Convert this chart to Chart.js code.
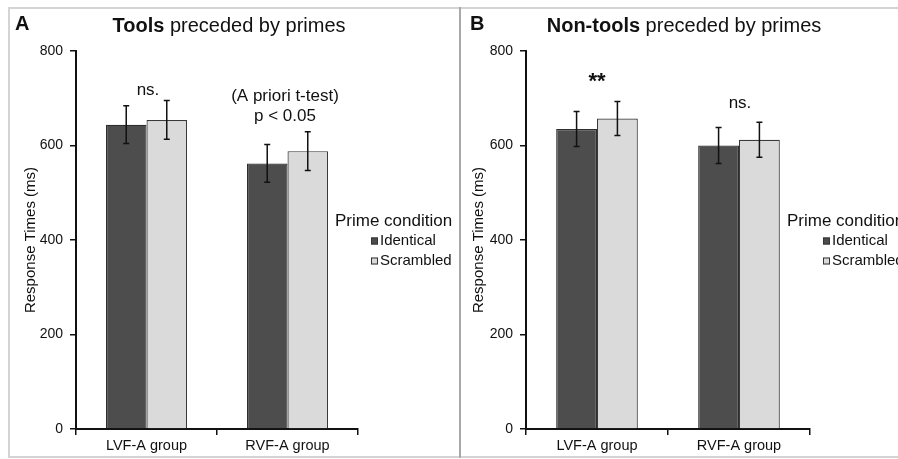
<!DOCTYPE html>
<html>
<head>
<meta charset="utf-8">
<script src="https://cdn.jsdelivr.net/npm/chart.js@4.4.1/dist/chart.umd.min.js"></script>
<style>
  html, body { margin: 0; padding: 0; background: #fff; width: 898px; height: 459px; overflow: hidden; }
  #frame { position: absolute; left: 8px; top: 7px; width: 900px; height: 447px; border: 2px solid #d4d4d4; border-right: none; }
  #sep { position: absolute; left: 459px; top: 7px; width: 2px; height: 451px; background: #a9a9a9; }
  #wrapA { position: absolute; left: 10px; top: 9px; width: 449px; height: 448px; overflow: hidden; }
  #wrapB { position: absolute; left: 462px; top: 9px; width: 436px; height: 448px; overflow: hidden; }
  canvas { display: block; }
</style>
</head>
<body>
<div id="frame"></div>
<div id="sep"></div>
<div id="wrapA"><canvas id="chartA" width="450" height="448"></canvas></div>
<div id="wrapB"><canvas id="chartB" width="450" height="448"></canvas></div>
<script>
// ---- data ----
const categories = ["LVF-A group", "RVF-A group"];
const seriesNames = ["Identical", "Scrambled"];
const yTicks = [0, 200, 400, 600, 800];

const toolsIdentical = [644, 562];
const toolsIdenticalErr = [40, 40];
const toolsScrambled = [654, 588];
const toolsScrambledErr = [41, 41];

const nonToolsIdentical = [635, 600];
const nonToolsIdenticalErr = [37, 38];
const nonToolsScrambled = [657, 612];
const nonToolsScrambledErr = [36, 37];

const FONT = '"Liberation Sans", Arial, Helvetica, sans-serif';
const DARK = '#4d4d4d';
const LIGHT = '#dadada';

function makeChart(id, opts) {
  const ox = opts.ox, oy = opts.oy;
  const overlay = {
    id: 'overlay',
    afterDatasetsDraw(chart) {
      const ctx = chart.ctx;
      const ys = chart.scales.y;
      // error bars
      ctx.save();
      ctx.strokeStyle = '#111';
      ctx.lineWidth = 1.5;
      chart.data.datasets.forEach((ds, di) => {
        const meta = chart.getDatasetMeta(di);
        meta.data.forEach((bar, i) => {
          const v = ds.data[i], e = ds.errors[i];
          const yt = ys.getPixelForValue(v + e), yb = ys.getPixelForValue(v - e);
          ctx.beginPath();
          ctx.moveTo(bar.x, yt); ctx.lineTo(bar.x, yb);
          ctx.moveTo(bar.x - 3, yt); ctx.lineTo(bar.x + 3, yt);
          ctx.moveTo(bar.x - 3, yb); ctx.lineTo(bar.x + 3, yb);
          ctx.stroke();
        });
      });
      ctx.restore();
    },
    afterDraw(chart) {
      const ctx = chart.ctx;
      ctx.save();
      ctx.fillStyle = '#111';
      ctx.textBaseline = 'alphabetic';
      // panel letter
      ctx.font = 'bold 20px ' + FONT;
      ctx.textAlign = 'left';
      ctx.fillText(opts.letter, opts.letterX - ox, 30 - oy);
      // title (bold part + normal part)
      ctx.font = 'bold 20px ' + FONT;
      const w1 = ctx.measureText(opts.titleBold).width;
      ctx.font = '20px ' + FONT;
      const w2 = ctx.measureText(opts.titleRest).width;
      let tx = opts.titleCX - ox - (w1 + w2) / 2;
      ctx.font = 'bold 20px ' + FONT;
      ctx.fillText(opts.titleBold, tx, 32 - oy);
      ctx.font = '20px ' + FONT;
      ctx.fillText(opts.titleRest, tx + w1, 32 - oy);
      // annotations
      ctx.textAlign = 'center';
      ctx.textBaseline = 'middle';
      opts.notes.forEach(n => {
        ctx.font = (n.bold ? 'bold ' : '') + n.size + 'px ' + FONT;
        ctx.fillText(n.text, n.x - ox, n.y - oy);
      });
      // legend
      ctx.textAlign = 'left';
      ctx.font = '17px ' + FONT;
      ctx.fillText('Prime condition', opts.legX - ox, 221 - oy);
      ctx.font = '15px ' + FONT;
      chart.data.datasets.forEach((ds, di) => {
        const cy = 241 + di * 20 - oy;
        ctx.fillStyle = ds.backgroundColor;
        ctx.fillRect(opts.boxX - ox, cy - 3.5, 7, 7);
        ctx.strokeStyle = '#333';
        ctx.lineWidth = 1;
        ctx.strokeRect(opts.boxX - ox + 0.5, cy - 3.5 + 0.5, 6, 6);
        ctx.fillStyle = '#111';
        ctx.fillText(ds.label, opts.boxX - ox + 9, cy);
      });
      ctx.restore();
    }
  };

  return new Chart(document.getElementById(id), {
    type: 'bar',
    data: {
      labels: categories,
      datasets: [
        { label: seriesNames[0], data: opts.identical, errors: opts.identicalErr,
          backgroundColor: DARK, borderColor: '#2e2e2e', borderWidth: 1.2 },
        { label: seriesNames[1], data: opts.scrambled, errors: opts.scrambledErr,
          backgroundColor: LIGHT, borderColor: '#3a3a3a', borderWidth: 1.2 }
      ]
    },
    plugins: [overlay],
    options: {
      responsive: false,
      animation: false,
      devicePixelRatio: 1,
      layout: { padding: { left: opts.padLeft, right: 102, top: 42, bottom: 0 } },
      plugins: { legend: { display: false }, tooltip: { enabled: false }, title: { display: false } },
      datasets: { bar: { categoryPercentage: 0.575, barPercentage: 1.0 } },
      scales: {
        x: {
          type: 'category',
          offset: true,
          border: { display: true, color: '#111', width: 2 },
          grid: { display: true, offset: true, drawOnChartArea: false, drawTicks: true, tickLength: 6, color: '#111', lineWidth: 1.5 },
          ticks: { color: '#111', font: { family: FONT, size: 14.5 }, padding: 2, maxRotation: 0 },
          afterFit: (s) => { s.height = 28; }
        },
        y: {
          min: 0, max: 800,
          afterBuildTicks: (s) => { s.ticks = yTicks.map(v => ({ value: v })); },
          border: { display: true, color: '#111', width: 2 },
          grid: { display: true, drawOnChartArea: false, drawTicks: true, tickLength: 6, color: '#111', lineWidth: 1.5 },
          ticks: { color: '#111', font: { family: FONT, size: 14 }, padding: 7 },
          title: { display: true, text: 'Response Times (ms)', color: '#111', font: { family: FONT, size: 15 }, padding: { top: 4, bottom: 4 } },
          afterFit: (s) => { s.width = opts.yWidth; }
        }
      }
    }
  });
}

makeChart('chartA', {
  ox: 10, oy: 9, padLeft: 8, yWidth: 58,
  letter: 'A', letterX: 15,
  titleBold: 'Tools', titleRest: ' preceded by primes', titleCX: 229,
  identical: toolsIdentical, identicalErr: toolsIdenticalErr,
  scrambled: toolsScrambled, scrambledErr: toolsScrambledErr,
  notes: [
    { text: 'ns.', x: 148, y: 90, size: 17 },
    { text: '(A priori t-test)', x: 285, y: 96, size: 17 },
    { text: 'p < 0.05', x: 285, y: 116, size: 17 }
  ],
  legX: 335, boxX: 371
});

makeChart('chartB', {
  ox: 462, oy: 9, padLeft: 4, yWidth: 60,
  letter: 'B', letterX: 470,
  titleBold: 'Non-tools', titleRest: ' preceded by primes', titleCX: 684,
  identical: nonToolsIdentical, identicalErr: nonToolsIdenticalErr,
  scrambled: nonToolsScrambled, scrambledErr: nonToolsScrambledErr,
  notes: [
    { text: '**', x: 597, y: 82, size: 22, bold: true },
    { text: 'ns.', x: 740, y: 103, size: 17 }
  ],
  legX: 787, boxX: 823
});
</script>
</body>
</html>
